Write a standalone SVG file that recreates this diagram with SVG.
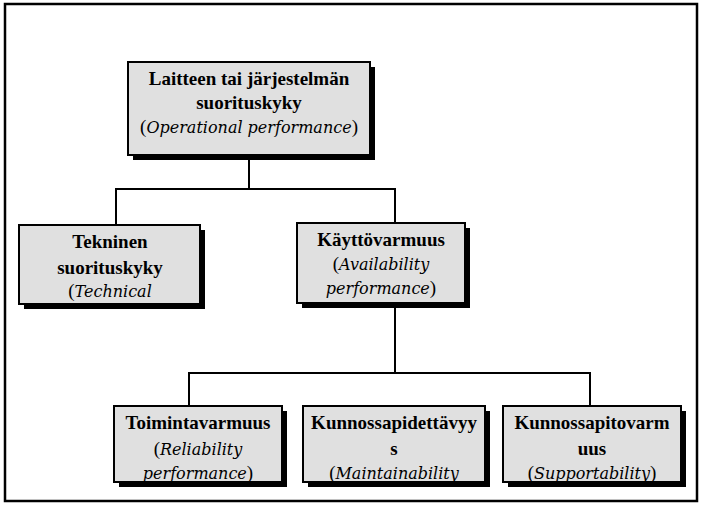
<svg xmlns="http://www.w3.org/2000/svg" width="702" height="506" viewBox="0 0 702 506" font-family="Liberation Serif, Times New Roman, DejaVu Serif, serif">
<defs><style>
.b{fill:#e0e0e0;stroke:#000;stroke-width:2}
.s{fill:#000}
text{font-family:Liberation Serif, 'Times New Roman', 'DejaVu Serif', serif;font-size:19px;text-anchor:middle;fill:#000}
.t{font-weight:bold}
.i{font-style:italic;font-family:'DejaVu Serif', serif;font-size:16px}
.c{fill:none;stroke:#000;stroke-width:2}
</style></defs>
<rect x="0" y="0" width="702" height="506" fill="#fff"/>
<rect x="5" y="4" width="692" height="497" fill="none" stroke="#000" stroke-width="2.5"/>
<g id="connectors">
<path class="c" d="M249 155V189M116 225V189H395V223M395 303V373M189 406V373H590V406"/>
</g>
<g id="n1"><rect class="s" x="133" y="67" width="242" height="93"/><rect class="b" x="128" y="62" width="242" height="93"/>
<text class="t" x="249" y="85">Laitteen tai järjestelmän</text><text class="t" x="249" y="109">suorituskyky</text><text x="249" y="133">(<tspan class="i">Operational performance</tspan>)</text></g>
<g id="n2"><rect class="s" x="24" y="230" width="181" height="79"/><rect class="b" x="19" y="225" width="181" height="79"/>
<text class="t" x="110" y="248">Tekninen</text><text class="t" x="110" y="274">suorituskyky</text><text x="110" y="297">(<tspan class="i">Technical</tspan></text></g>
<g id="n3"><rect class="s" x="302" y="228" width="168" height="80"/><rect class="b" x="297" y="223" width="168" height="80"/>
<text class="t" x="381" y="246">Käyttövarmuus</text><text x="381" y="270">(<tspan class="i">Availability</tspan></text><text x="381" y="294"><tspan class="i">performance</tspan>)</text></g>
<g id="n4"><rect class="s" x="119" y="411" width="168" height="76"/><rect class="b" x="114" y="406" width="168" height="76"/>
<text class="t" x="198" y="429">Toimintavarmuus</text><text x="198" y="455">(<tspan class="i">Reliability</tspan></text><text x="198" y="479"><tspan class="i">performance</tspan>)</text></g>
<g id="n5"><rect class="s" x="308" y="411" width="182" height="76"/><rect class="b" x="303" y="406" width="182" height="76"/>
<text class="t" x="394" y="429">Kunnossapidettävyy</text><text class="t" x="394" y="455">s</text><text x="394" y="479">(<tspan class="i">Maintainability</tspan></text></g>
<g id="n6"><rect class="s" x="508" y="411" width="178" height="76"/><rect class="b" x="503" y="406" width="178" height="76"/>
<text class="t" x="592" y="429">Kunnossapitovarm</text><text class="t" x="592" y="455">uus</text><text x="592" y="479">(<tspan class="i">Supportability</tspan>)</text></g>
</svg>
